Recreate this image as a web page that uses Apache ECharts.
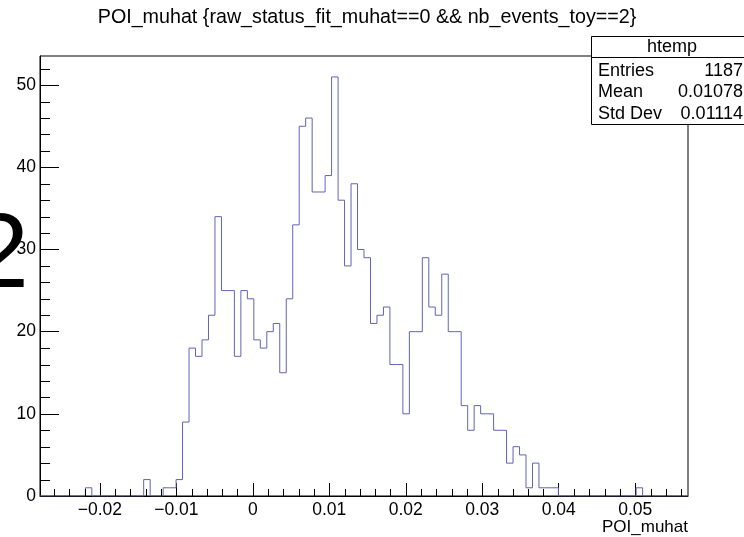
<!DOCTYPE html>
<html><head><meta charset="utf-8">
<script src="https://cdn.jsdelivr.net/npm/echarts@6/dist/echarts.min.js"></script>
<style>html,body{margin:0;padding:0;background:#fff}#c{width:744px;height:537px}</style>
</head><body><div id="c"></div>
<script>
// ---- data ----
const titleText = 'POI_muhat {raw_status_fit_muhat==0 && nb_events_toy==2}';
const xAxisTitle = 'POI_muhat';
const xMin = -0.02782;
const xMax = 0.05690;
const nBins = 100;
const yMax = 53.55;
const counts = [
  0,0,0,0,0,0,0,1,0,0,
  0,0,0,0,0,0,2,0,0,1,
  1,2,9,18,17,19,22,34,25,25,
  17,25,24,19,18,20,21,15,24,33,
  45,46,37,37,39,51,36,28,38,30,
  29,21,22,23,16,16,10,20,20,29,
  23,22,27,20,20,11,8,11,10,10,
  8,8,4,6,5,1,4,1,1,1,
  0,0,0,0,0,0,0,0,0,0,
  0,0,1,0,0,0,0,0,0,0
];
const xMajorTicks = [-0.02, -0.01, 0, 0.01, 0.02, 0.03, 0.04, 0.05];
const xTickLabels = ['\u22120.02', '\u22120.01', '0', '0.01', '0.02', '0.03', '0.04', '0.05'];
const yMajorTicks = [0, 10, 20, 30, 40, 50];
const yTickLabels = ['0', '10', '20', '30', '40', '50'];
const statsName = 'htemp';
const statsLabels = ['Entries', 'Mean', 'Std Dev'];
const statsValues = ['1187', '0.01078', '0.01114'];
const bigGlyph = '2';

// ---- derived ----
const binW = (xMax - xMin) / nBins;
const stepData = counts.map((c, i) => [xMin + i * binW, c]);
stepData.push([xMax, counts[counts.length - 1]]);
const xMinor = [];
for (let k = -13; k <= 28; k++) if (k % 5 !== 0) xMinor.push([k * 0.002, 0]);
const yMinor = [];
for (let k = 1; k <= 26; k++) if (k % 5 !== 0) yMinor.push([xMin, k * 2]);

const FONT = '"Liberation Sans", Arial, Helvetica, sans-serif';
const chart = echarts.init(document.getElementById('c'), null, {renderer: 'canvas'});

function lbl(list, labels, v) {
  for (let i = 0; i < list.length; i++) if (Math.abs(list[i] - v) < 1e-9) return labels[i];
  return '';
}

const statsX = 591, statsY = 36, statsW = 163, statsH = 88, statsHead = 21;
const graphic = [
  {type: 'text', x: 367, y: 18, silent: true,
   style: {text: titleText, fontFamily: FONT, fontSize: 19.7, fill: '#000', align: 'center', verticalAlign: 'middle'}},
  {type: 'text', x: 688, y: 527, silent: true,
   style: {text: xAxisTitle, fontFamily: FONT, fontSize: 17, fill: '#000', align: 'right', verticalAlign: 'middle'}},
  {type: 'text', x: -30, y: 258, silent: true, z: 50,
   style: {text: bigGlyph, fontFamily: FONT, fontSize: 106, fill: '#000', align: 'left', verticalAlign: 'middle'}},
  {type: 'rect', z: 100, shape: {x: statsX + 0.5, y: statsY + 0.5, width: statsW, height: statsH},
   style: {fill: '#fff', stroke: '#000', lineWidth: 1}},
  {type: 'line', z: 101, shape: {x1: statsX, y1: statsY + statsHead + 0.5, x2: statsX + statsW, y2: statsY + statsHead + 0.5},
   style: {stroke: '#000', lineWidth: 1}},
  {type: 'text', z: 102, x: 672, y: statsY + statsHead / 2 + 0.5,
   style: {text: statsName, fontFamily: FONT, fontSize: 18, fill: '#000', align: 'center', verticalAlign: 'middle'}}
];
statsLabels.forEach((s, i) => {
  const yy = 71 + i * 21.5;
  graphic.push({type: 'text', z: 102, x: 598, y: yy,
    style: {text: s, fontFamily: FONT, fontSize: 18, fill: '#000', align: 'left', verticalAlign: 'middle'}});
  graphic.push({type: 'text', z: 102, x: 743, y: yy,
    style: {text: statsValues[i], fontFamily: FONT, fontSize: 18, fill: '#000', align: 'right', verticalAlign: 'middle'}});
});

const option = {
  animation: false,
  backgroundColor: '#fff',
  grid: {left: 40, top: 56, right: 56, bottom: 41, show: true, borderColor: '#000', borderWidth: 1, backgroundColor: 'transparent'},
  xAxis: {
    type: 'value', min: xMin, max: xMax, splitNumber: 8, minInterval: 0.01, maxInterval: 0.01,
    axisLine: {show: true, onZero: false, lineStyle: {color: '#000', width: 1}},
    axisTick: {show: true, inside: true, length: 13, lineStyle: {color: '#000', width: 1}},
    axisLabel: {show: true, inside: false, margin: 5, color: '#000', fontFamily: FONT, fontSize: 17.5,
      showMinLabel: false, showMaxLabel: false, hideOverlap: false,
      formatter: v => lbl(xMajorTicks, xTickLabels, v)},
    splitLine: {show: false}
  },
  yAxis: {
    type: 'value', min: 0, max: yMax, interval: 10,
    axisLine: {show: true, onZero: false, lineStyle: {color: '#000', width: 1}},
    axisTick: {show: true, inside: true, length: 19, lineStyle: {color: '#000', width: 1}},
    axisLabel: {show: true, margin: 4, color: '#000', fontFamily: FONT, fontSize: 17.5,
      showMaxLabel: false, formatter: v => lbl(yMajorTicks, yTickLabels, v)},
    splitLine: {show: false}
  },
  series: [
    {type: 'line', data: stepData, step: 'end', showSymbol: false, symbol: 'none',
     lineStyle: {color: '#6262b8', width: 1}, clip: true, z: 5},
    {type: 'custom', coordinateSystem: 'cartesian2d', data: xMinor, silent: true, clip: false, z: 6,
     encode: {x: 0, y: 1},
     renderItem: (params, api) => {
       const p = api.coord([api.value(0), api.value(1)]);
       const x = Math.round(p[0]) + 0.5;
       return {type: 'line', shape: {x1: x, y1: p[1], x2: x, y2: p[1] - 7}, style: {stroke: '#000', lineWidth: 1}};
     }},
    {type: 'custom', coordinateSystem: 'cartesian2d', data: yMinor, silent: true, clip: false, z: 6,
     encode: {x: 0, y: 1},
     renderItem: (params, api) => {
       const p = api.coord([api.value(0), api.value(1)]);
       const y = Math.round(p[1]) + 0.5;
       return {type: 'line', shape: {x1: p[0], y1: y, x2: p[0] + 10, y2: y}, style: {stroke: '#000', lineWidth: 1}};
     }}
  ],
  graphic: graphic
};
chart.setOption(option);
</script>
</body></html>
